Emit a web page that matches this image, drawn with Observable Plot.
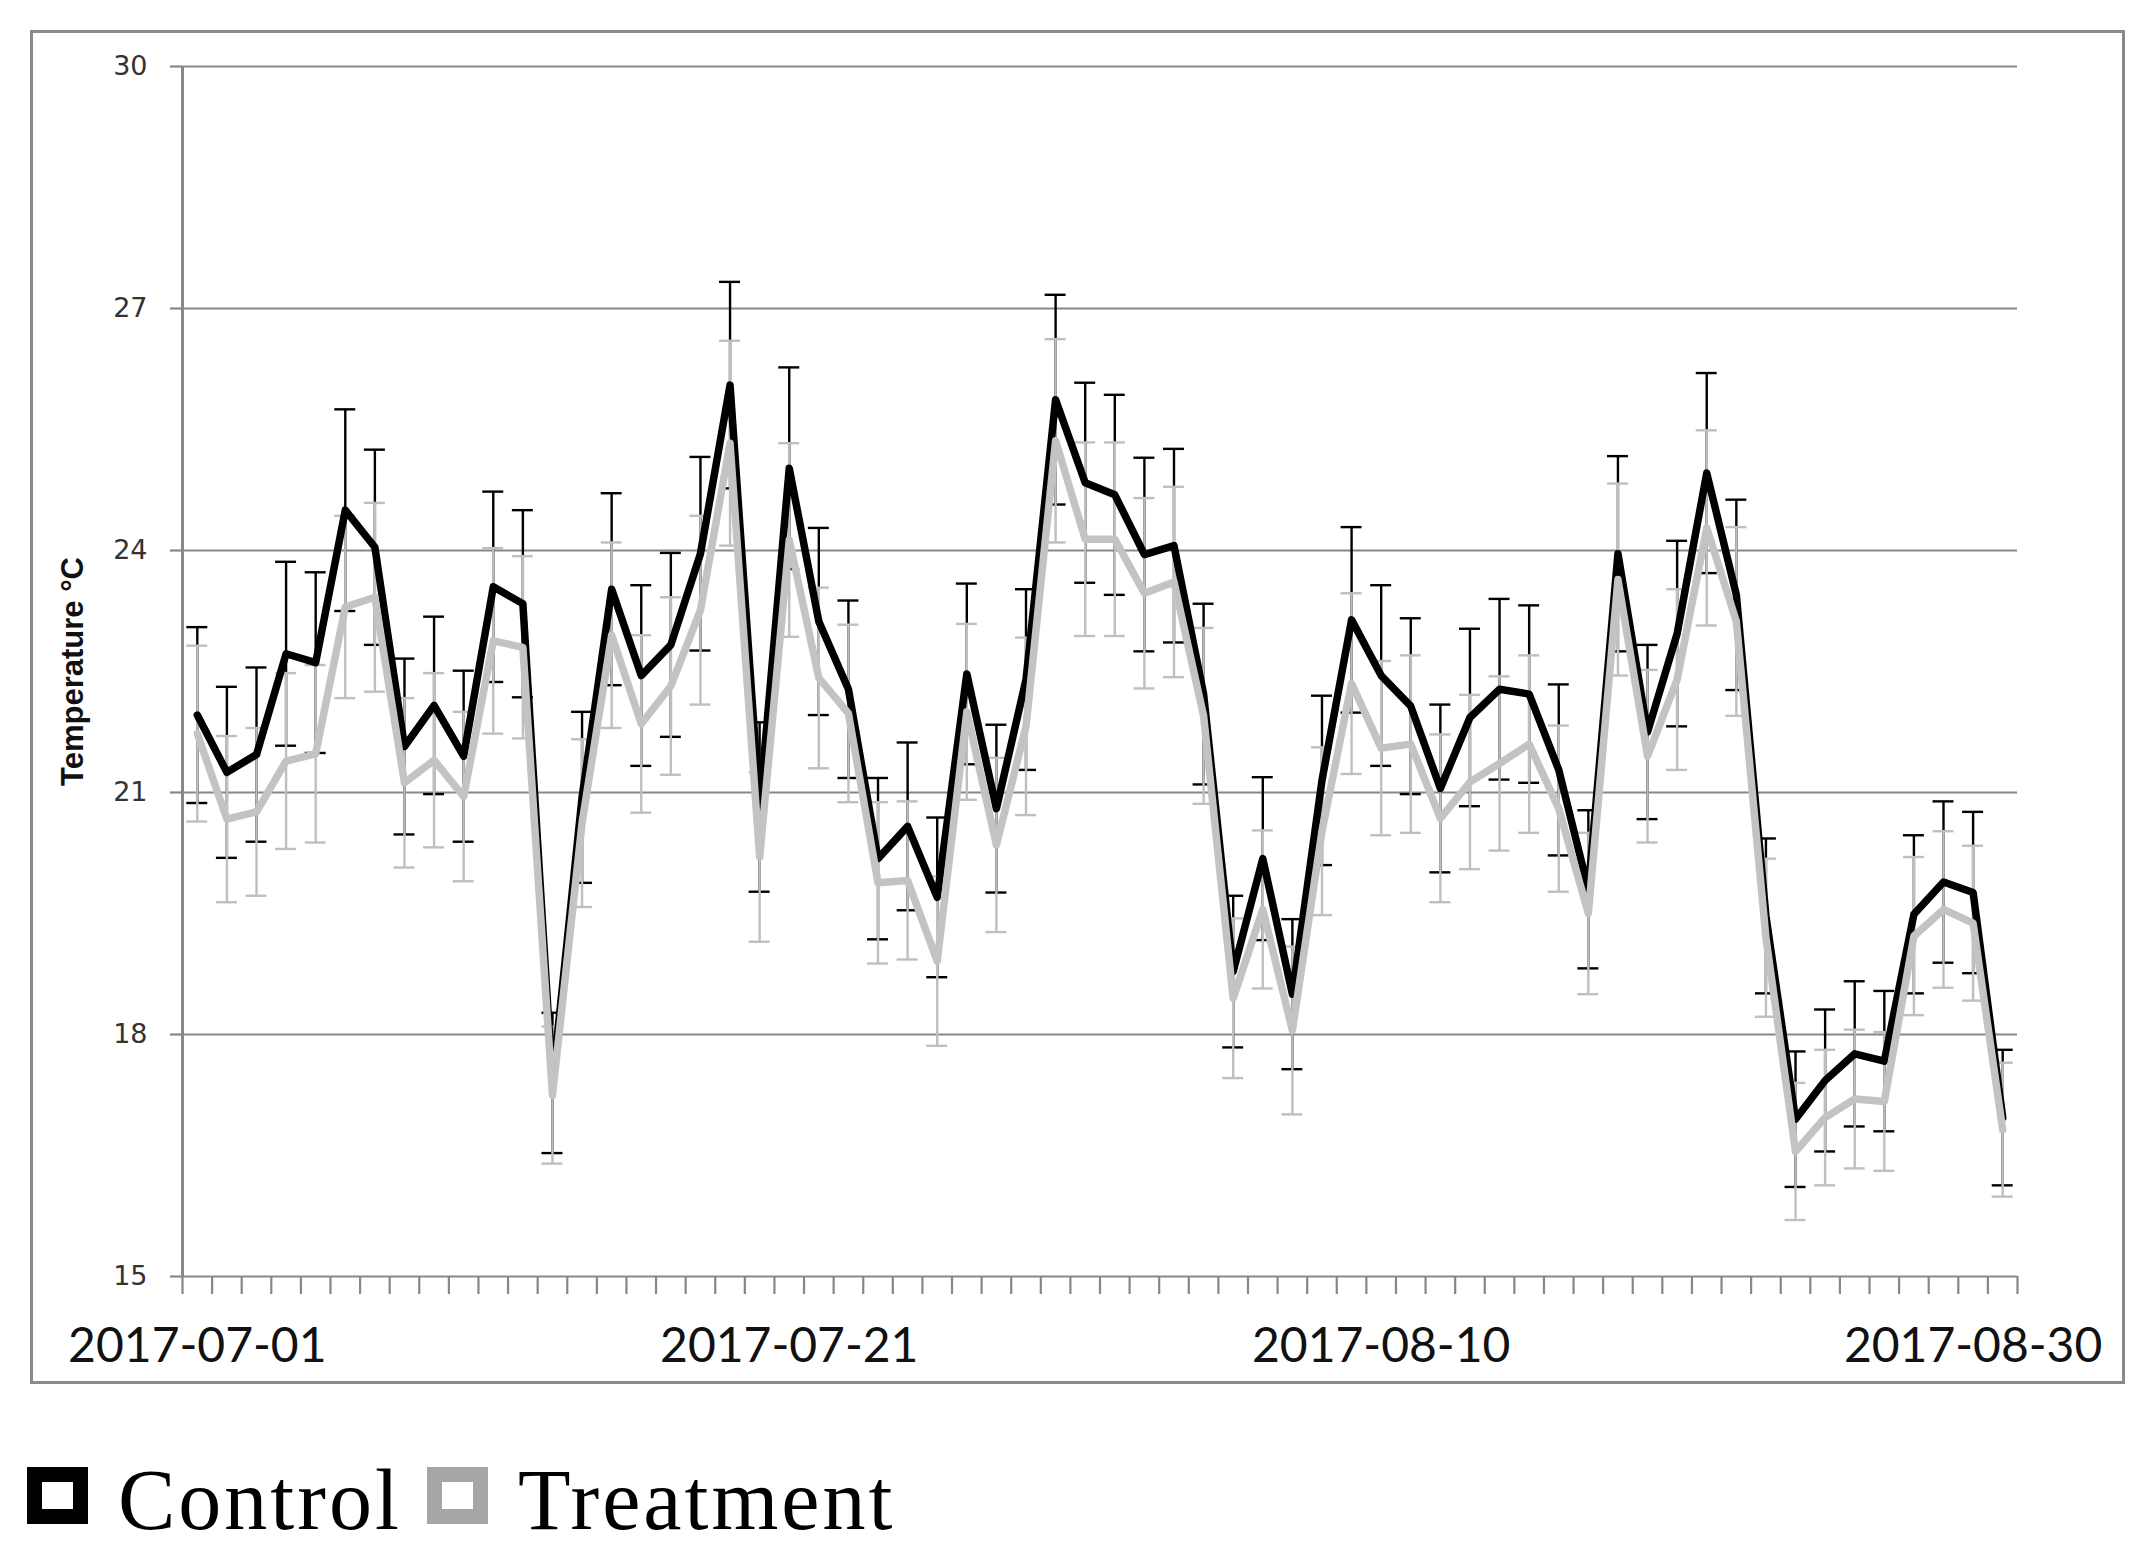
<!DOCTYPE html>
<html><head><meta charset="utf-8">
<script src="https://cdn.jsdelivr.net/npm/d3@7"></script>
<script src="https://cdn.jsdelivr.net/npm/@observablehq/plot@0.6"></script>
<style>
html,body{margin:0;padding:0;background:#fff;}
#page{position:relative;width:2151px;height:1560px;overflow:hidden;background:#fff;}
#chart{position:absolute;left:0;top:0;}
#frame{position:absolute;left:30px;top:30px;width:2095px;height:1354px;box-sizing:border-box;border:3px solid #8a8a8a;pointer-events:none;}
#legend{position:absolute;left:0;top:1420px;width:2151px;height:140px;}
.sw{position:absolute;top:47px;width:61px;height:57px;box-sizing:border-box;border-style:solid;border-width:15px;background:#fff;}
.lt{position:absolute;top:37px;font-family:"Liberation Serif","Times New Roman",serif;font-size:86px;line-height:1;letter-spacing:3px;color:#000;white-space:nowrap;}
</style></head>
<body><div id="page"><div id="chart"></div><div id="frame"></div><div id="legend"></div></div>
<script>
const startDate = new Date(Date.UTC(2017, 6, 1));
const controlMean = [21.96,21.25,21.47,22.72,22.61,24.50,24.04,21.57,22.08,21.45,23.55,23.34,17.40,20.94,23.52,22.45,22.83,23.96,26.05,20.82,25.02,23.12,22.28,20.18,20.58,19.70,22.47,20.80,22.40,25.87,24.84,24.69,23.95,24.06,22.22,18.78,20.18,18.50,21.15,23.14,22.45,22.07,21.05,21.93,22.28,22.22,21.28,19.80,23.96,21.75,22.97,24.96,23.45,19.47,16.95,17.43,17.76,17.67,19.49,19.89,19.76,16.97];
const controlErr = [1.09,1.06,1.08,1.14,1.12,1.25,1.21,1.09,1.10,1.06,1.18,1.16,0.87,1.06,1.19,1.12,1.14,1.20,1.28,1.05,1.25,1.16,1.10,1.00,1.04,0.99,1.12,1.04,1.12,1.30,1.24,1.24,1.20,1.20,1.12,0.94,1.01,0.93,1.05,1.15,1.12,1.09,1.04,1.10,1.12,1.10,1.06,0.98,1.21,1.08,1.15,1.24,1.18,0.96,0.84,0.88,0.90,0.87,0.98,1.00,1.00,0.84];
const treatmentMean = [21.73,20.67,20.76,21.39,21.48,23.30,23.42,21.12,21.40,20.95,22.88,22.80,17.25,20.62,22.95,21.85,22.32,23.26,25.33,20.20,24.13,22.42,21.98,19.88,19.91,18.91,22.00,20.35,21.82,25.36,24.14,24.14,23.47,23.61,21.95,18.45,19.55,18.05,20.52,22.35,21.55,21.60,20.68,21.13,21.36,21.60,20.80,19.50,23.64,21.45,22.40,24.28,23.12,19.20,16.55,16.97,17.20,17.17,19.22,19.55,19.38,16.82];
const treatmentErr = [1.09,1.03,1.04,1.09,1.10,1.13,1.17,1.05,1.08,1.05,1.15,1.13,0.85,1.04,1.15,1.10,1.10,1.17,1.27,1.05,1.20,1.12,1.10,1.00,0.98,1.05,1.09,1.08,1.10,1.26,1.20,1.20,1.18,1.18,1.09,0.99,0.98,1.04,1.04,1.12,1.08,1.10,1.04,1.08,1.08,1.10,1.03,1.00,1.19,1.07,1.12,1.21,1.17,0.98,0.85,0.84,0.86,0.86,0.98,0.97,0.96,0.83];
const xTickLabels = ["2017-07-01","2017-07-21","2017-08-10","2017-08-30"];
const yTicks = [15,18,21,24,27,30];
const yLabel = "Temperature °C";
const seriesNames = ["Control","Treatment"];
const seriesColors = ["#000000","#a6a6a6"];

const dates = controlMean.map((_, i) => d3.utcDay.offset(startDate, i));
const rows = dates.map((date, i) => ({date, c: controlMean[i], ce: controlErr[i], t: treatmentMean[i], te: treatmentErr[i]}));
const xDomain = [d3.utcHour.offset(dates[0], -12), d3.utcHour.offset(dates[dates.length - 1], 12)];
const dayBounds = dates.map(d => d3.utcHour.offset(d, -12)).concat([xDomain[1]]);
const parse = d3.utcParse("%Y-%m-%d");
const xLabelDates = xTickLabels.map(parse);
const GRID = "#878787";

function errorBars(key, errKey, color) {
  const capL = d => d3.utcMinute.offset(d.date, -510);
  const capR = d => d3.utcMinute.offset(d.date, 510);
  return [
    Plot.ruleX(rows, {x: "date", y1: d => d[key] - d[errKey], y2: d => d[key] + d[errKey], stroke: color, strokeWidth: 2.4}),
    Plot.ruleY(rows, {y: d => d[key] + d[errKey], x1: capL, x2: capR, stroke: color, strokeWidth: 2.4}),
    Plot.ruleY(rows, {y: d => d[key] - d[errKey], x1: capL, x2: capR, stroke: color, strokeWidth: 2.4})
  ];
}

const plot = Plot.plot({
  width: 2151, height: 1420,
  marginLeft: 182, marginRight: 134, marginTop: 66, marginBottom: 144,
  x: {type: "utc", domain: xDomain, label: null},
  y: {domain: [15, 30], label: null},
  style: {background: "transparent", overflow: "visible"},
  marks: [
    Plot.ruleY(yTicks, {stroke: GRID, strokeWidth: 2.2}),
    Plot.ruleX([xDomain[0]], {stroke: GRID, strokeWidth: 3}),
    Plot.axisX({ticks: dayBounds, tickSize: 18, tickFormat: () => "", stroke: GRID, strokeWidth: 2.2, strokeOpacity: 1, label: null}),
    Plot.axisX({ticks: xLabelDates, tickSize: 0, tickPadding: 51, tickFormat: d3.utcFormat("%Y-%m-%d"), fontSize: 48, fontFamily: "Lato", fill: "#111", label: null}),
    Plot.axisY({ticks: yTicks, tickSize: 12, tickPadding: 23, fontSize: 27, fontFamily: "DejaVu Sans", fill: "#333", stroke: GRID, strokeWidth: 2.2, strokeOpacity: 1, label: null}),
    Plot.text([yLabel], {text: d => d, frameAnchor: "left", textAnchor: "middle", dx: -109, rotate: -90, fontSize: 31, fontWeight: "bold", fontFamily: "Liberation Sans", fill: "#111"}),
    ...errorBars("c", "ce", "#000000"),
    ...errorBars("t", "te", "#bfbfbf"),
    Plot.line(rows, {x: "date", y: "c", stroke: "#000000", strokeWidth: 7.5, strokeLinejoin: "round"}),
    Plot.line(rows, {x: "date", y: "t", stroke: "#c3c3c3", strokeWidth: 7.5, strokeLinejoin: "round"})
  ]
});
document.getElementById("chart").appendChild(plot);

const legend = document.getElementById("legend");
const swLeft = [27, 427], txtLeft = [118, 518];
seriesNames.forEach((name, i) => {
  const sw = document.createElement("div");
  sw.className = "sw";
  sw.style.left = swLeft[i] + "px";
  sw.style.borderColor = seriesColors[i];
  legend.appendChild(sw);
  const t = document.createElement("span");
  t.className = "lt";
  t.style.left = txtLeft[i] + "px";
  t.textContent = name;
  legend.appendChild(t);
});
</script>
</body></html>
